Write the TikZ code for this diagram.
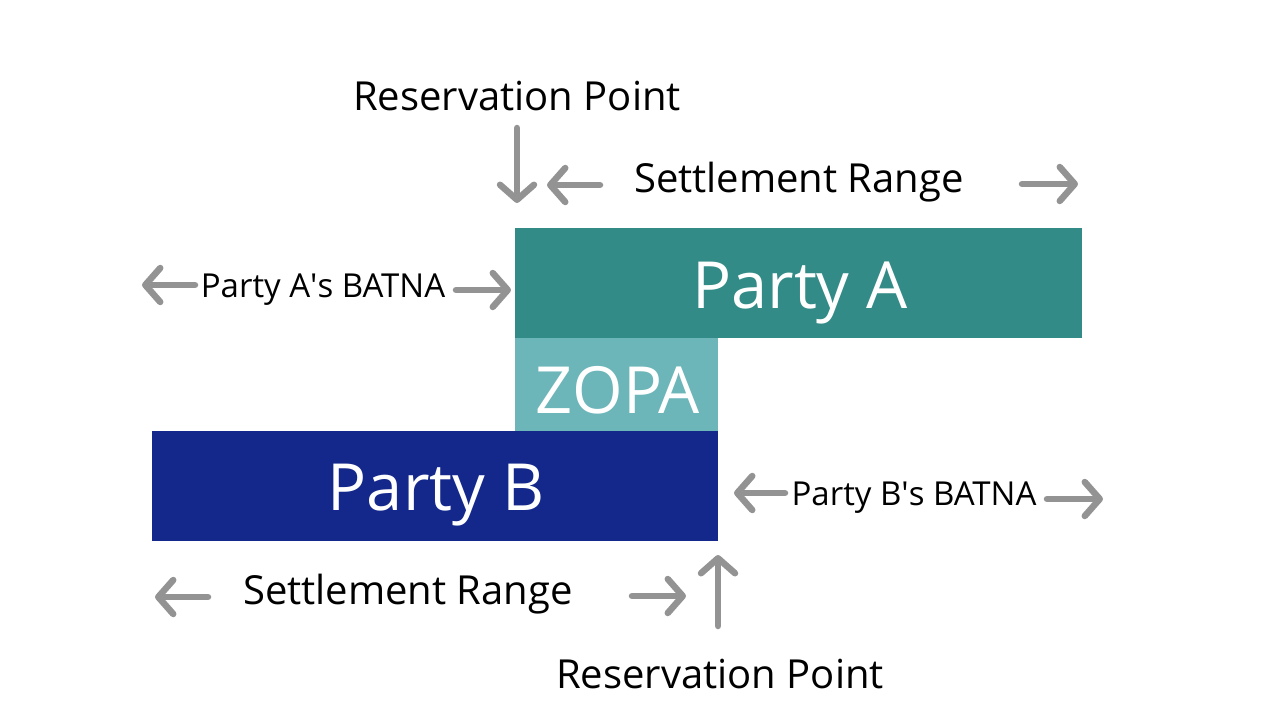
\documentclass[tikz,border=0pt]{standalone}
\usepackage{fontspec}
\setmainfont{Open Sans}
\usetikzlibrary{arrows.meta}
\definecolor{cteal}{RGB}{50,139,135}
\definecolor{czopa}{RGB}{108,181,185}
\definecolor{cnavy}{RGB}{20,40,140}
\definecolor{cgrey}{RGB}{147,147,147}
\tikzset{bar/.style={anchor=north west,inner sep=0pt,outer sep=0pt,text=white,font=\fontsize{65}{65}\selectfont},
         lbl/.style={anchor=base,inner sep=0pt,font=\fontsize{40}{40}\selectfont},
         small/.style={anchor=base,inner sep=0pt,font=\fontsize{33}{33}\selectfont},
         garrow/.style={cgrey,line width=6.5pt,line cap=round,
           -{Straight Barb[length=15pt,width=34pt,line cap=round,line join=round]}}}

\begin{document}
\begin{tikzpicture}[x=1pt,y=-1pt]
    \useasboundingbox (0,0) rectangle (1280,720);
    % bars
    \node[bar,fill=cteal,minimum width=567pt,minimum height=110pt] (partyA) at (515,228) {};
    \node[bar,fill=czopa,minimum width=203pt,minimum height=93pt] (zopa) at (515,338) {};
    \node[bar,fill=cnavy,minimum width=566pt,minimum height=110pt] (partyB) at (152,431) {};
    \node[bar,anchor=base] (tA) at (800,308) {Party A};
    \node[bar,anchor=base] (tZ) at (618,413) {ZOPA};
    \node[bar,anchor=base] (tB) at (436,510) {Party B};
    % labels
    \node[lbl] (resA) at (517,110) {Reservation Point};
    \node[lbl] (setA) at (799,192) {Settlement Range};
    \node[small] (batA) at (323,297) {Party A\textquotesingle s BATNA};
    \node[small] (batB) at (914,505) {Party B\textquotesingle s BATNA};
    \node[lbl] (setB) at (408,604) {Settlement Range};
    \node[lbl] (resB) at (720,688) {Reservation Point};
    % arrow ends
    \coordinate (d1) at (517,128); \coordinate (d2) at (517,203);
    \coordinate (s1) at (600,185); \coordinate (s2) at (547,185);
    \coordinate (s3) at (1022,184); \coordinate (s4) at (1078,184);
    \coordinate (a1) at (195,285); \coordinate (a2) at (142,285);
    \coordinate (a3) at (456,290); \coordinate (a4) at (511,290);
    \coordinate (b1) at (785,493); \coordinate (b2) at (734,493);
    \coordinate (b3) at (1047,499); \coordinate (b4) at (1103,499);
    \coordinate (t1) at (208,597); \coordinate (t2) at (155,597);
    \coordinate (t3) at (632,596); \coordinate (t4) at (686,596);
    \coordinate (u1) at (718,626); \coordinate (u2) at (718,555);
    \foreach \p/\q in {d1/d2,s1/s2,s3/s4,a1/a2,a3/a4,b1/b2,b3/b4,t1/t2,t3/t4,u1/u2}
        \draw[garrow] (\p) -- (\q);
\end{tikzpicture}
\end{document}
